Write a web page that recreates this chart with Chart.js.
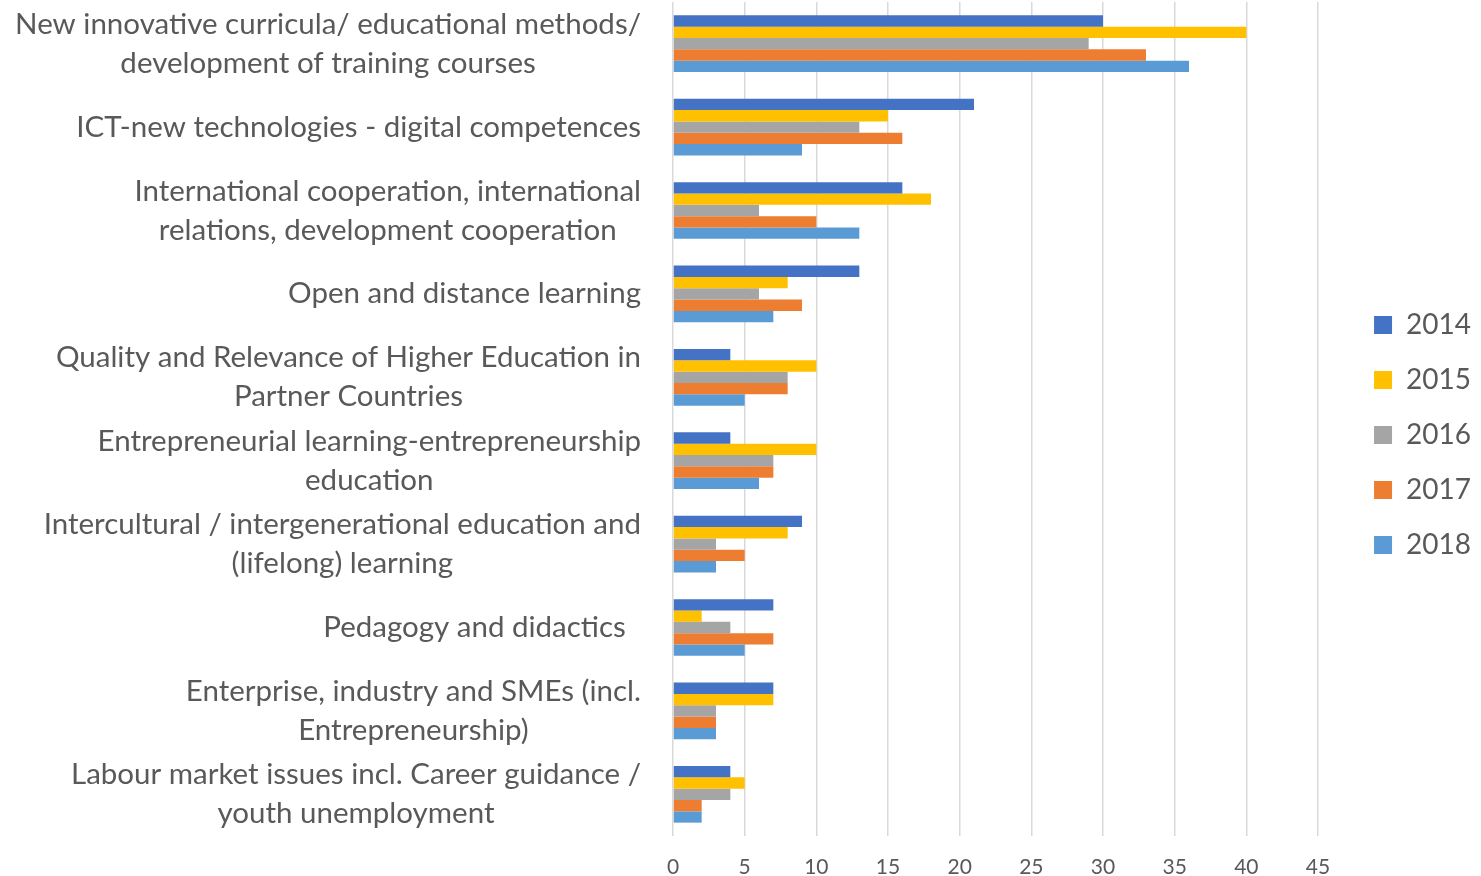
<!DOCTYPE html>
<html>
<head>
<meta charset="utf-8">
<script src="https://cdn.jsdelivr.net/npm/chart.js@4.4.1/dist/chart.umd.min.js"></script>
<style>
html,body{margin:0;padding:0;background:#fff}
#wrap{width:1481px;height:876px;position:relative}
</style>
</head>
<body>
<div id="wrap"><canvas id="c"></canvas></div>
<script>
const categories = [
  ["New innovative curricula/ educational methods/", "development of training courses"],
  ["ICT-new technologies - digital competences"],
  ["International cooperation, international", "relations, development cooperation"],
  ["Open and distance learning"],
  ["Quality and Relevance of Higher Education in", "Partner Countries"],
  ["Entrepreneurial learning-entrepreneurship", "education"],
  ["Intercultural / intergenerational education and", "(lifelong) learning"],
  ["Pedagogy and didactics  "],
  ["Enterprise, industry and SMEs (incl.", "Entrepreneurship)"],
  ["Labour market issues incl. Career guidance /", "youth unemployment"]
];
const seriesNames = ["2014", "2015", "2016", "2017", "2018"];
const values2014 = [30, 21, 16, 13, 4, 4, 9, 7, 7, 4];
const values2015 = [40, 15, 18, 8, 10, 10, 8, 2, 7, 5];
const values2016 = [29, 13, 6, 6, 8, 7, 3, 4, 3, 4];
const values2017 = [33, 16, 10, 9, 8, 7, 5, 7, 3, 2];
const values2018 = [36, 9, 13, 7, 5, 6, 3, 5, 3, 2];
const xMin = 0, xMax = 45, xStep = 5;

const seriesValues = [values2014, values2015, values2016, values2017, values2018];
const seriesColors = ["#4472C4", "#FFC000", "#A5A5A5", "#ED7D31", "#5B9BD5"];

const TEXT = "#595959";
const PLOT_LEFT = 673, PLOT_RIGHT = 1318;

Chart.defaults.font.family = "Lato, 'Open Sans', sans-serif";
Chart.defaults.color = TEXT;

const categoryLabels = {
  id: 'categoryLabels',
  afterDraw(chart) {
    const ys = chart.scales.y;
    const ctx = chart.ctx;
    ctx.save();
    ctx.font = "29.5px Lato";
    ctx.fillStyle = TEXT;
    ctx.textAlign = "center";
    ctx.textBaseline = "middle";
    const rightEdge = chart.chartArea.left - 32;
    const lh = 39;
    categories.forEach((lines, i) => {
      const cy = ys.getPixelForTick(i);
      const maxW = Math.max(...lines.map(l => ctx.measureText(l).width));
      const cx = rightEdge - maxW / 2;
      lines.forEach((l, j) => {
        ctx.fillText(l, cx, cy + (j - (lines.length - 1) / 2) * lh);
      });
    });
    ctx.restore();
  }
};

const legendPlacer = {
  id: 'legendPlacer',
  afterInit(chart) {
    const lg = chart.legend;
    const origFit = lg.fit.bind(lg);
    lg.fit = function () {
      origFit();
      const target = chart.width - PLOT_RIGHT;
      this._shift = target - this.width;
      this.width = target;
    };
  },
  afterLayout(chart) {
    const lg = chart.legend;
    if (lg && lg._shift !== undefined) {
      lg.left += lg._shift;
      lg.right += lg._shift;
      lg.top -= 4;
      lg.bottom -= 4;
    }
  }
};

new Chart(document.getElementById('c'), {
  type: 'bar',
  data: {
    labels: categories.map(l => l.join(' ')),
    datasets: seriesNames.map((name, i) => ({
      label: name,
      data: seriesValues[i],
      backgroundColor: seriesColors[i],
      borderWidth: 0,
      categoryPercentage: 0.68,
      barPercentage: 1.0
    }))
  },
  options: {
    indexAxis: 'y',
    responsive: true,
    maintainAspectRatio: false,
    animation: false,
    layout: { padding: { top: 2, right: 0, bottom: 0, left: 0 } },
    scales: {
      x: {
        min: xMin, max: xMax,
        ticks: { stepSize: xStep, font: { size: 21 }, color: TEXT, padding: 19 },
        grid: { color: '#d9d9d9', lineWidth: 1.5, drawTicks: false },
        border: { display: false },
        afterFit(s) { s.height = 40; }
      },
      y: {
        ticks: { display: false },
        grid: { display: false },
        border: { display: false },
        afterFit(s) { s.width = PLOT_LEFT; }
      }
    },
    plugins: {
      legend: {
        position: 'right',
        labels: {
          font: { size: 28 },
          color: TEXT,
          boxWidth: 18,
          boxHeight: 18,
          padding: 27
        }
      },
      tooltip: { enabled: false }
    }
  },
  plugins: [categoryLabels, legendPlacer]
});
</script>
</body>
</html>
